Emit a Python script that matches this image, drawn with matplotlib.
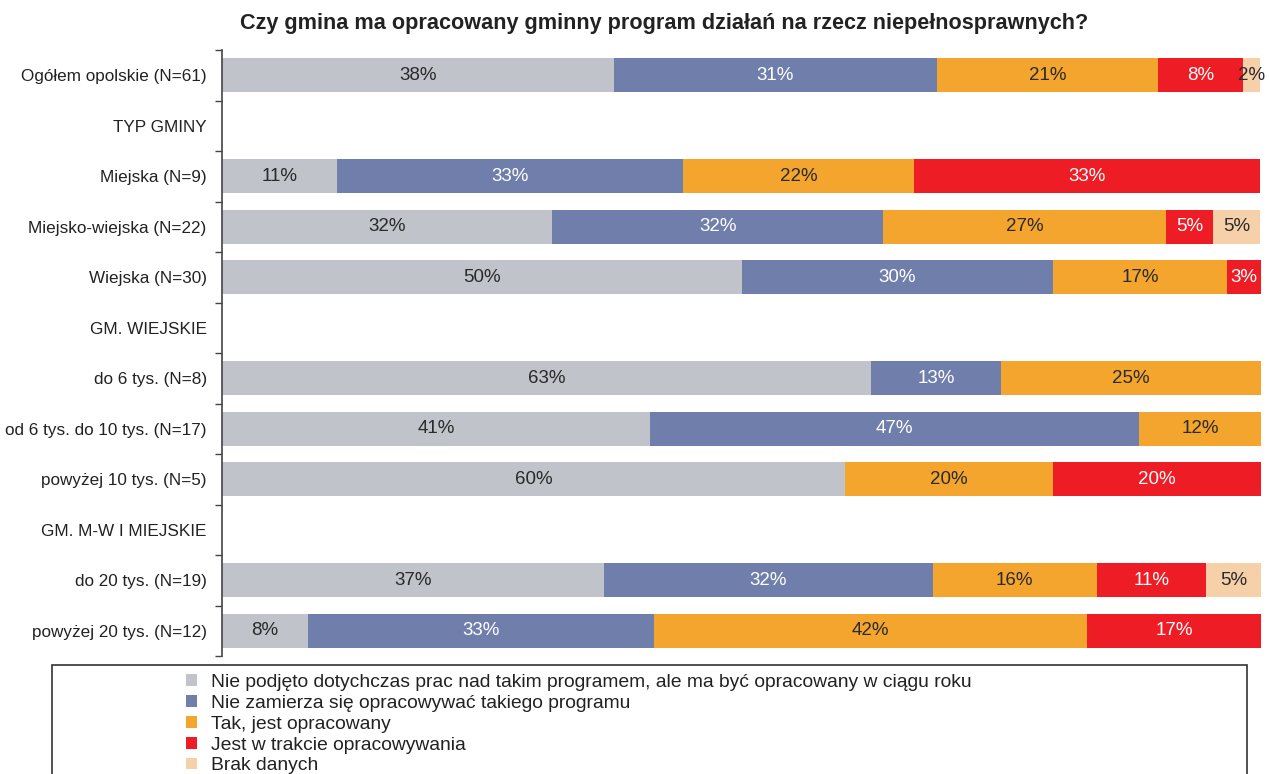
import numpy as np
import matplotlib.pyplot as plt
from matplotlib.patches import Patch, Rectangle

plt.rcParams['font.family'] = ['Liberation Sans', 'DejaVu Sans']

# --- data ---
categories = [
    "Ogółem opolskie (N=61)",
    "TYP GMINY",
    "Miejska (N=9)",
    "Miejsko-wiejska (N=22)",
    "Wiejska (N=30)",
    "GM. WIEJSKIE",
    "do 6 tys. (N=8)",
    "od 6 tys. do 10 tys. (N=17)",
    "powyżej 10 tys. (N=5)",
    "GM. M-W I MIEJSKIE",
    "do 20 tys. (N=19)",
    "powyżej 20 tys. (N=12)",
]

series_names = [
    "Nie podjęto dotychczas prac nad takim programem, ale ma być opracowany w ciągu roku",
    "Nie zamierza się opracowywać takiego programu",
    "Tak, jest opracowany",
    "Jest w trakcie opracowywania",
    "Brak danych",
]

nie_podjeto = [37.7, 0, 11.1, 31.8, 50.0, 0, 62.5, 41.2, 60.0, 0, 36.8, 8.3]
nie_zamierza = [31.1, 0, 33.3, 31.8, 30.0, 0, 12.5, 47.1, 0, 0, 31.6, 33.3]
tak = [21.3, 0, 22.2, 27.3, 16.7, 0, 25.0, 11.8, 20.0, 0, 15.8, 41.7]
w_trakcie = [8.2, 0, 33.3, 4.5, 3.3, 0, 0, 0, 20.0, 0, 10.5, 16.7]
brak = [1.6, 0, 0, 4.5, 0, 0, 0, 0, 0, 0, 5.3, 0]

series = [nie_podjeto, nie_zamierza, tak, w_trakcie, brak]
colors = ["#c0c3ca", "#6f7eab", "#f4a52d", "#ee1c25", "#f5d0a9"]
text_colors = ["#2a2a2a", "white", "#2a2a2a", "white", "#2a2a2a"]

fig = plt.figure(figsize=(12.69, 7.74), dpi=100)
ax = fig.add_axes([222 / 1269, 1 - 656 / 774, (1261 - 222) / 1269, (656 - 50) / 774])

y = np.arange(len(categories))
left = np.zeros(len(categories))
for vals, col, tcol in zip(series, colors, text_colors):
    vals = np.array(vals)
    ax.barh(y, vals, left=left, height=0.68, color=col, edgecolor="none")
    for yi, (l, v) in enumerate(zip(left, vals)):
        if v > 0:
            ax.text(l + v / 2, yi, f"{int(v + 0.5)}%", ha="center", va="center",
                    fontsize=13.5, color=tcol)
    left += vals

ax.set_xlim(0, 100)
ax.set_ylim(len(categories) - 0.5, -0.5)
ax.set_yticks(y)
ax.set_yticklabels(categories, fontsize=12.3, color="#222222")
ax.set_yticks(np.arange(-0.5, len(categories)), minor=True)
ax.tick_params(axis="y", which="major", length=0, pad=11)
ax.tick_params(axis="y", which="minor", length=5, width=1, color="#444444")
ax.set_xticks([])
for s in ["top", "right", "bottom"]:
    ax.spines[s].set_visible(False)
ax.spines["left"].set_color("#444444")
ax.spines["left"].set_linewidth(1.2)

fig.text(664 / 1269, 1 - 23 / 774,
         "Czy gmina ma opracowany gminny program działań na rzecz niepełnosprawnych?",
         ha="center", va="center", fontsize=15.6, fontweight="bold", color="#222222")

# legend box (runs off the bottom edge)
box = Rectangle((52 / 1269, -0.05), (1247 - 52) / 1269, (1 - 665 / 774) + 0.05,
                transform=fig.transFigure, fill=False, edgecolor="#333333",
                linewidth=1.2, clip_on=False)
fig.patches.append(box)

handles = [Patch(facecolor=c, edgecolor="none") for c in colors]
fig.legend(handles, series_names, loc="upper left",
           bbox_to_anchor=(186 / 1269, 1 - 674 / 774), frameon=False,
           fontsize=13.9, handlelength=0.55, handleheight=0.55, handletextpad=0.75,
           labelspacing=0.2, borderpad=0, borderaxespad=0,
           labelcolor="#222222")

fig.savefig("out.png", dpi=100)
